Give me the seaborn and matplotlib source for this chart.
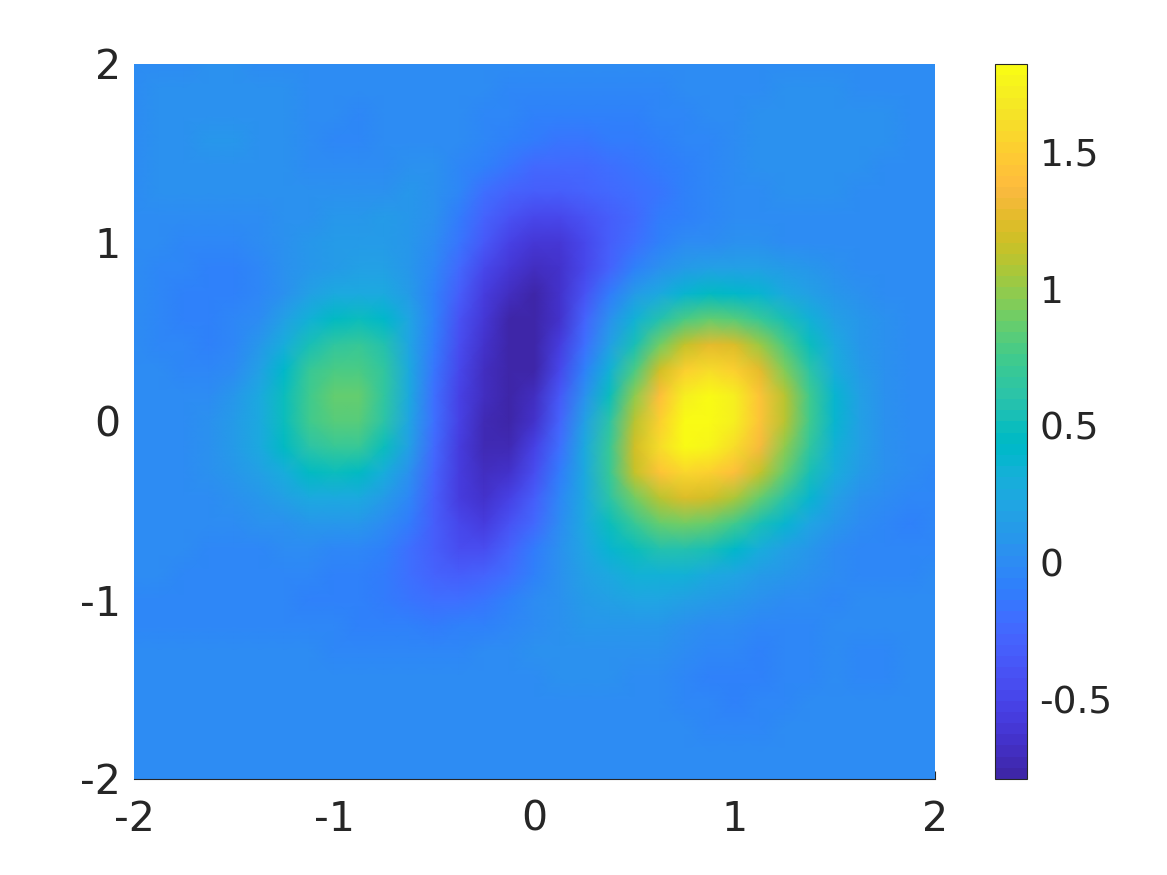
import numpy as np
import matplotlib
matplotlib.use("Agg")
import matplotlib.pyplot as plt
import seaborn as sns
from matplotlib.colors import ListedColormap

# field values, rows top (y=2) to bottom (y=-2), columns x=-2..2
field_rows = [
    [.02,.02,.02,.03,.03,.02,.02,.02,.02,.02,.02,.01,.01,.0,.0,.0,.0,-.01,-.01,-.01,-.01,0,0,0,.01,.01,.01,.01,.01,.01,.01,.01,.01],
    [.02,.03,.03,.04,.04,.03,.03,.02,.01,.01,.02,.02,.01,.0,-.01,-.02,-.03,-.04,-.04,-.04,-.03,-.02,-.01,0,.01,.02,.03,.03,.03,.02,.02,.01,.01],
    [.02,.03,.05,.06,.06,.05,.03,.02,-.01,-.03,.0,.01,.01,-.01,-.03,-.05,-.07,-.08,-.08,-.08,-.07,-.05,-.03,-.01,.01,.03,.05,.05,.05,.04,.03,.02,.01],
    [.02,.04,.06,.07,.07,.06,.04,.02,-.02,-.04,.0,.02,.02,-.01,-.04,-.09,-.13,-.15,-.15,-.13,-.11,-.08,-.05,-.02,.01,.04,.06,.06,.05,.04,.03,.02,.01],
    [.02,.03,.05,.06,.06,.05,.03,.02,-.01,-.01,.02,.04,.03,-.02,-.09,-.17,-.22,-.24,-.23,-.20,-.16,-.11,-.07,-.03,.0,.03,.05,.05,.04,.03,.02,.01,.01],
    [.02,.03,.04,.04,.04,.03,.03,.03,.03,.04,.06,.07,.04,-.05,-.20,-.28,-.33,-.34,-.30,-.25,-.20,-.14,-.08,-.04,-.01,.02,.03,.04,.03,.02,.01,.01,.01],
    [.01,.01,.02,.02,.01,.02,.04,.06,.08,.10,.11,.09,.03,-.10,-.30,-.42,-.48,-.48,-.42,-.32,-.22,-.13,-.07,-.03,.0,.01,.02,.02,.02,.01,.01,.01,.01],
    [.0,-.01,-.02,-.03,-.03,-.01,.03,.07,.11,.14,.14,.10,.01,-.15,-.38,-.52,-.61,-.60,-.50,-.34,-.19,-.07,-.01,.02,.03,.03,.02,.01,.01,.01,.01,.01,.01],
    [.0,-.02,-.05,-.07,-.07,-.03,.03,.09,.14,.18,.17,.10,-.03,-.25,-.48,-.62,-.70,-.66,-.49,-.27,-.07,.06,.13,.17,.17,.15,.11,.07,.04,.02,.01,.01,.01],
    [.0,-.03,-.07,-.09,-.08,-.03,.06,.16,.23,.27,.24,.13,-.06,-.33,-.55,-.70,-.76,-.66,-.41,-.12,.11,.27,.38,.44,.42,.36,.27,.17,.09,.04,.02,.01,.01],
    [.0,-.03,-.07,-.08,-.05,.02,.17,.33,.46,.51,.43,.20,-.09,-.40,-.61,-.75,-.78,-.63,-.30,.03,.32,.57,.76,.86,.83,.70,.52,.32,.17,.07,.03,.01,.01],
    [.0,-.02,-.05,-.06,-.02,.08,.29,.52,.66,.70,.56,.22,-.13,-.45,-.65,-.78,-.78,-.57,-.19,.18,.55,.90,1.16,1.28,1.23,1.03,.77,.48,.25,.10,.04,.01,.01],
    [.0,-.01,-.03,-.02,.02,.16,.42,.68,.80,.80,.64,.25,-.15,-.49,-.68,-.79,-.75,-.48,-.07,.34,.78,1.20,1.50,1.60,1.52,1.27,.95,.60,.31,.13,.05,.01,.0],
    [.0,-.01,-.01,.01,.07,.24,.50,.74,.85,.85,.67,.26,-.18,-.52,-.70,-.78,-.70,-.38,.06,.50,.97,1.40,1.72,1.80,1.70,1.44,1.10,.72,.38,.16,.05,.01,.0],
    [.01,.01,.01,.04,.11,.27,.50,.72,.83,.82,.63,.22,-.21,-.54,-.72,-.75,-.63,-.28,.17,.62,1.10,1.52,1.80,1.82,1.70,1.45,1.10,.72,.39,.17,.05,.01,.0],
    [.01,.01,.02,.05,.11,.24,.44,.62,.70,.68,.49,.15,-.24,-.55,-.72,-.71,-.54,-.19,.24,.69,1.18,1.58,1.78,1.75,1.60,1.35,1.00,.65,.35,.15,.05,.0,-.01],
    [.01,.01,.02,.04,.08,.16,.31,.44,.49,.46,.30,.05,-.28,-.56,-.70,-.64,-.44,-.11,.27,.69,1.14,1.45,1.55,1.52,1.40,1.15,.85,.55,.28,.11,.03,-.01,-.03],
    [.0,.0,.01,.02,.04,.08,.16,.23,.26,.24,.13,-.05,-.31,-.55,-.63,-.53,-.33,-.05,.27,.62,.92,1.12,1.22,1.20,1.05,.85,.60,.38,.18,.06,-.01,-.05,-.05],
    [.0,.0,.0,.0,.01,.03,.06,.09,.10,.08,.01,-.12,-.33,-.50,-.55,-.41,-.22,.0,.26,.48,.70,.85,.90,.85,.72,.55,.38,.22,.10,.02,-.05,-.06,-.05],
    [.0,.0,-.01,-.02,-.02,-.02,-.01,-.01,-.02,-.04,-.08,-.18,-.32,-.43,-.43,-.29,-.13,.03,.20,.36,.50,.58,.58,.52,.42,.30,.18,.09,.02,-.03,-.05,-.05,-.03],
    [-.01,-.01,-.02,-.03,-.04,-.04,-.05,-.05,-.07,-.09,-.13,-.21,-.28,-.32,-.28,-.18,-.06,.05,.15,.24,.32,.35,.32,.27,.20,.13,.07,.03,-.01,-.03,-.03,-.02,-.01],
    [-.02,-.02,-.03,-.03,-.04,-.04,-.05,-.06,-.07,-.09,-.12,-.16,-.19,-.20,-.16,-.08,-.01,.06,.12,.17,.19,.19,.16,.12,.07,.03,.0,-.01,-.02,-.01,-.01,.0,.0],
    [-.02,-.02,-.02,-.02,-.02,-.03,-.03,-.04,-.05,-.06,-.07,-.09,-.10,-.09,-.07,-.02,.02,.05,.08,.10,.10,.09,.06,.02,-.01,-.03,-.04,-.03,-.01,-.01,-.01,.0,.0],
    [-.01,-.01,-.01,-.01,-.01,-.01,-.01,-.01,-.02,-.02,-.03,-.03,-.03,-.02,-.01,.01,.03,.04,.05,.06,.05,.03,.0,-.03,-.05,-.07,-.05,-.03,-.01,-.02,-.03,-.01,.0],
    [.0,.0,.0,.01,.01,.01,.01,.01,.0,.0,.0,.0,.0,.01,.01,.02,.02,.03,.03,.03,.02,.0,-.03,-.06,-.08,-.08,-.05,-.02,-.01,-.02,-.03,-.01,.0],
    [.0,.01,.01,.01,.01,.01,.01,.01,.01,.01,.01,.01,.01,.01,.01,.01,.01,.01,.01,.01,.0,-.01,-.03,-.05,-.06,-.05,-.03,-.01,.0,-.01,-.01,.0,.0],
    [.0,.0,.01,.01,.01,.01,.01,.01,.01,.01,.01,.0,.0,.0,.0,.0,.0,.0,.0,.0,-.01,-.01,-.01,-.02,-.02,-.02,-.01,.0,.0,.0,.0,.0,.0],
    [.01,.01,.01,.01,.01,.01,.01,.01,.01,.01,.01,.01,.01,.01,.01,.01,.01,.01,.01,.01,.0,.0,.0,.0,.0,.0,.01,.01,.01,.01,.01,.01,.01],
    [.01,.01,.01,.01,.01,.01,.01,.01,.01,.01,.01,.01,.01,.01,.01,.01,.01,.01,.01,.01,.01,.01,.01,.01,.01,.01,.01,.01,.01,.01,.01,.01,.01],
]

x_ticks = [-2, -1, 0, 1, 2]
y_ticks = [2, 1, 0, -1, -2]
cbar_ticks = [-0.5, 0, 0.5, 1, 1.5]
cbar_labels = ["-0.5", "0", "0.5", "1", "1.5"]
value_min = -0.79
value_max = 1.82

# parula, 64 steps
parula = [
    (0.2422,0.1504,0.6603),(0.2504,0.1650,0.7076),(0.2578,0.1818,0.7511),(0.2647,0.1978,0.7952),
    (0.2706,0.2147,0.8364),(0.2751,0.2342,0.8710),(0.2783,0.2559,0.8991),(0.2803,0.2782,0.9221),
    (0.2813,0.3006,0.9414),(0.2810,0.3228,0.9579),(0.2795,0.3447,0.9717),(0.2760,0.3667,0.9829),
    (0.2699,0.3892,0.9906),(0.2602,0.4123,0.9952),(0.2440,0.4358,0.9988),(0.2206,0.4603,0.9973),
    (0.1963,0.4847,0.9892),(0.1834,0.5074,0.9798),(0.1786,0.5289,0.9682),(0.1764,0.5499,0.9520),
    (0.1687,0.5703,0.9359),(0.1540,0.5902,0.9218),(0.1460,0.6091,0.9079),(0.1380,0.6276,0.8973),
    (0.1248,0.6459,0.8883),(0.1113,0.6635,0.8763),(0.0952,0.6798,0.8598),(0.0689,0.6948,0.8394),
    (0.0297,0.7082,0.8163),(0.0036,0.7203,0.7917),(0.0067,0.7312,0.7660),(0.0433,0.7411,0.7394),
    (0.0964,0.7500,0.7120),(0.1408,0.7584,0.6842),(0.1717,0.7670,0.6554),(0.1938,0.7758,0.6251),
    (0.2161,0.7843,0.5923),(0.2470,0.7918,0.5567),(0.2906,0.7973,0.5188),(0.3406,0.8008,0.4789),
    (0.3909,0.8029,0.4354),(0.4456,0.8024,0.3909),(0.5044,0.7993,0.3480),(0.5616,0.7942,0.3045),
    (0.6174,0.7876,0.2612),(0.6720,0.7793,0.2227),(0.7242,0.7698,0.1910),(0.7738,0.7598,0.1646),
    (0.8203,0.7498,0.1535),(0.8634,0.7406,0.1596),(0.9035,0.7330,0.1774),(0.9393,0.7288,0.2100),
    (0.9728,0.7298,0.2394),(0.9956,0.7434,0.2371),(0.9970,0.7659,0.2199),(0.9952,0.7893,0.2028),
    (0.9892,0.8136,0.1885),(0.9786,0.8386,0.1766),(0.9676,0.8639,0.1643),(0.9610,0.8890,0.1537),
    (0.9597,0.9135,0.1423),(0.9628,0.9373,0.1265),(0.9691,0.9606,0.1064),(0.9769,0.9839,0.0805),
]

sns.set_theme(style="white")
plt.rcParams["font.family"] = ["DejaVu Sans"]
plt.rcParams["axes.unicode_minus"] = False

W, H = 1167, 875
ink = "#262626"
font_size = 29.5
cbar_font_size = 27

field = np.array(field_rows)
n_rows, n_cols = field.shape

fig = plt.figure(figsize=(W / 100, H / 100), dpi=100)
ax = fig.add_axes([134 / W, 1 - 779 / H, 801 / W, 715 / H])
cax = fig.add_axes([995 / W, 1 - 779 / H, 32 / W, 715 / H])

# gouraud goes straight to pcolormesh, the values then sit on the mesh nodes
sns.heatmap(field, ax=ax, cbar_ax=cax, cmap=ListedColormap(parula), vmin=value_min, vmax=value_max,
            xticklabels=False, yticklabels=False, shading="gouraud",
            cbar_kws={"ticks": cbar_ticks})
ax.set_xlim(0, n_cols - 1)
ax.set_ylim(n_rows - 1, 0)

ax.set_xticks([(v + 2) / 4 * (n_cols - 1) for v in x_ticks])
ax.set_xticklabels([str(v) for v in x_ticks], fontsize=font_size, color=ink)
ax.set_yticks([(2 - v) / 4 * (n_rows - 1) for v in y_ticks])
ax.set_yticklabels([str(v) for v in y_ticks], fontsize=font_size, color=ink)
ax.tick_params(axis="x", length=0, pad=15, bottom=True)
ax.tick_params(axis="y", length=0, pad=9.5, left=True)

# only the bottom line shows, plus the small tick at the right end
for side in ["top", "left", "right"]:
    ax.spines[side].set_visible(False)
ax.spines["bottom"].set_visible(True)
ax.spines["bottom"].set_color(ink)
ax.spines["bottom"].set_linewidth(0.8)
ax.xaxis.remove_overlapping_locs = False
ax.set_xticks([n_cols - 1], minor=True)
ax.tick_params(axis="x", which="minor", direction="in", length=5.5, width=0.8, color=ink, bottom=True)

cbar = ax.collections[0].colorbar
cbar.set_ticks(cbar_ticks, labels=cbar_labels)
cbar.outline.set_visible(True)
cbar.outline.set_edgecolor(ink)
cbar.outline.set_linewidth(0.8)
cax.tick_params(axis="y", right=True, direction="in", length=5.8, width=0.8, color=ink,
                labelsize=cbar_font_size, labelcolor=ink, pad=9)

fig.savefig("out.png", dpi=100)
